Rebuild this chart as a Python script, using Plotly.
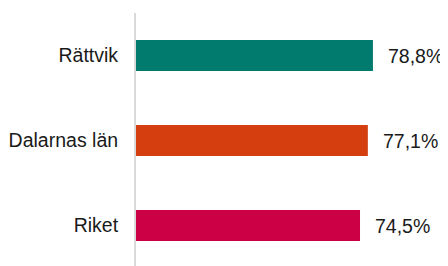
import plotly.graph_objects as go

categories = ["Rättvik", "Dalarnas län", "Riket"]
values = [78.8, 77.1, 74.5]
colors = ["#007B6E", "#D53F10", "#CC0044"]

labels = [f"{v:.1f}%".replace(".", ",") for v in values]

fig = go.Figure(go.Bar(
    x=values, y=categories, orientation="h",
    marker=dict(color=colors, line=dict(width=0)),
    width=0.365, hoverinfo="skip",
))

for c, v, t in zip(categories, values, labels):
    fig.add_annotation(x=v, y=c, text=t, showarrow=False, xanchor="left",
                       yanchor="middle", xshift=13,
                       font=dict(family="Liberation Sans, Arial", size=19.5, color="#1a1a1a"))

# page body has an 8px margin; the figure is sized to fill the rest of the window
fig.update_layout(
    width=440, height=258,
    margin=dict(l=128, r=0, t=5, b=0),
    paper_bgcolor="white", plot_bgcolor="white",
    showlegend=False,
    xaxis=dict(visible=False, range=[0, 103.76], fixedrange=True),
    yaxis=dict(categoryorder="array", categoryarray=categories,
               range=[2.476, -0.5], showgrid=False, zeroline=False,
               showline=True, linecolor="#d9d9d9", linewidth=2,
               ticks="", ticklabelstandoff=12, automargin=False,
               tickfont=dict(family="Liberation Sans, Arial", size=19.5, color="#1a1a1a")),
)

fig.write_html("out.html")
